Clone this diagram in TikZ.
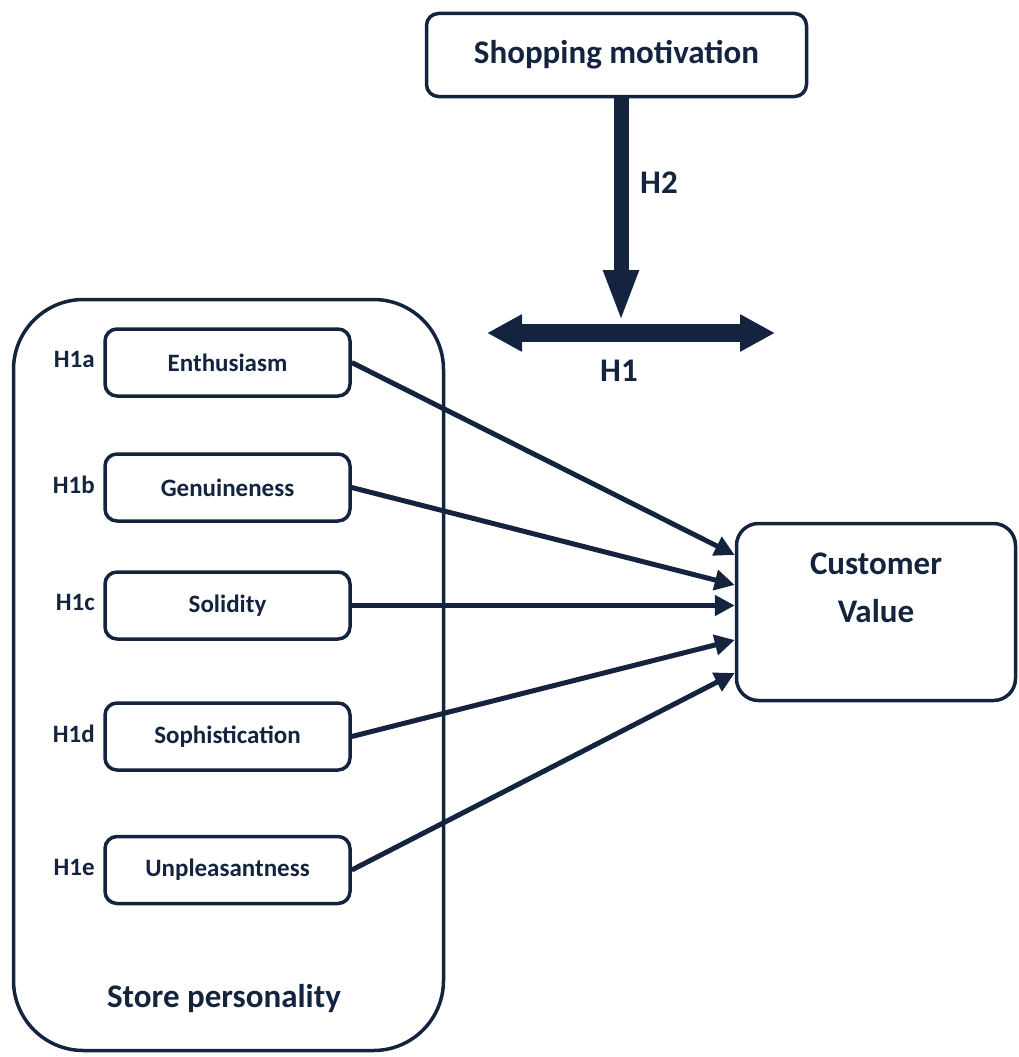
\documentclass[tikz,border=0pt]{standalone}
\usepackage{fontspec}
\setmainfont{Carlito}
\usetikzlibrary{arrows.meta}
\definecolor{navy}{HTML}{14243F}

\begin{document}
\begin{tikzpicture}[x=1pt,y=-1pt,
                    every node/.style={text=navy},
                    box/.style={draw=navy,line width=3.5pt,rounded corners=12pt},
                    big/.style={font=\fontsize{33}{48}\selectfont\bfseries},
                    small/.style={font=\fontsize{25}{30}\selectfont\bfseries},
                    link/.style={draw=navy,line width=5pt,-{Triangle[length=20pt,width=20pt]}}]
\useasboundingbox (0,0) rectangle (1019,1057);

\node[box,big,minimum width=380pt,minimum height=83pt] (motiv) at (616.5,55) {Shopping motivation};
\node[box,big,rounded corners=22pt,minimum width=279pt,minimum height=177pt,align=center] (cv) at (876,612) {Customer\\Value\\\mbox{}};
\node[box,rounded corners=70pt,minimum width=430pt,minimum height=751pt] (store) at (228.5,675) {};
\node[big] (storelabel) at (224,999) {Store personality};

% H2 acts on the H1 paths
\coordinate (h1l) at (487,333);
\coordinate (h1r) at (775,333);
\coordinate (h1c) at (621,333);
\draw[navy,line width=18pt,{Triangle[length=35pt,width=35pt]}-{Triangle[length=35pt,width=35pt]}] (h1l) -- (h1r);
\draw[navy,line width=15pt,-{Triangle[length=52pt,width=32pt]}] (motiv.south -| h1c) -- ([yshift=11pt]h1c);
\node[big] (h2) at (659,183) {H2};
\node[big] (h1) at (619,371) {H1};

\foreach \n/\y/\t/\h/\d in {enth/362.5/Enthusiasm/H1a/57,
                            genu/487.5/Genuineness/H1b/27,
                            soli/605.5/Solidity/H1c/6.5,
                            soph/736.5/Sophistication/H1d/-28,
                            unpl/870/Unpleasantness/H1e/-61}{
    \node[box,small,minimum width=245pt,minimum height=67pt] (\n) at (227.5,\y) {\t};
    \node[small,anchor=east] (\n-hyp) at ([xshift=-5pt,yshift=3pt]\n.west) {\h};
    \draw[link] (\n.east) -- ([yshift=\d pt]cv.west);
}
\end{tikzpicture}
\end{document}
